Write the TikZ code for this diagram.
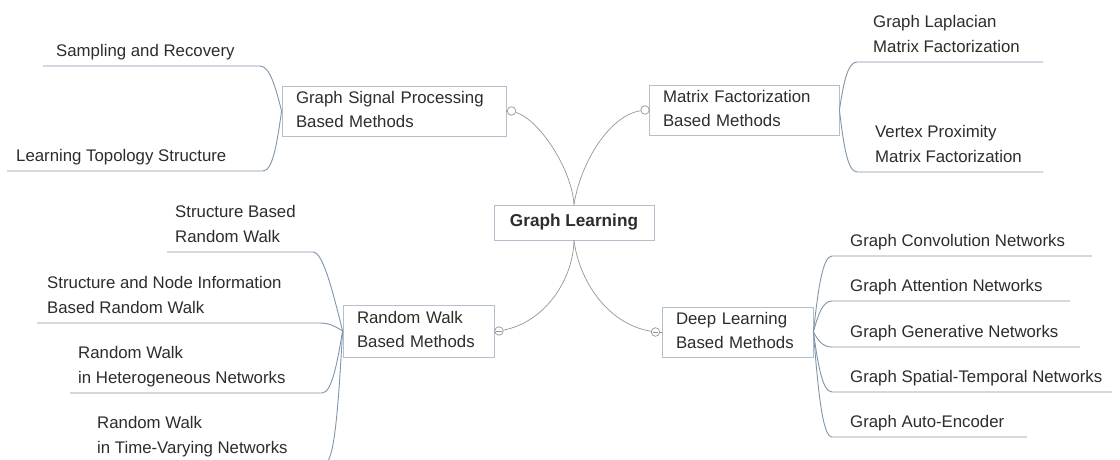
\documentclass[tikz,border=0pt]{standalone}
\usepackage{fontspec}
\setmainfont{Liberation Sans}
\usetikzlibrary{calc}
\definecolor{txt}{RGB}{45,45,45}
\definecolor{boxline}{RGB}{178,192,206}
\definecolor{twigcol}{RGB}{128,150,170}
\definecolor{linkcol}{RGB}{150,150,150}

\begin{document}
\begin{tikzpicture}[x=1pt,y=-1pt,
  every node/.style={text=txt},
  lbl/.style={font=\fontsize{16.8}{25}\selectfont, align=left, inner sep=0pt, anchor=south west},
  topic/.style={draw=boxline, line width=0.8pt, fill=white,
    font=\fontsize{16.8}{24}\selectfont, align=left,
    inner xsep=14pt, inner ysep=0pt, minimum height=50pt},
  root/.style={draw=boxline, line width=0.8pt, fill=white,
    font=\fontsize{17.2}{20}\selectfont\bfseries,
    minimum width=160pt, minimum height=35pt, inner sep=0pt},
  link/.style={draw=linkcol, line width=0.7pt},
  twig/.style={draw=twigcol, line width=0.9pt},
  knob/.style={circle, draw=linkcol, fill=white, minimum size=8.5pt, inner sep=0pt, line width=0.7pt},
  minus/.style={path picture={\draw[linkcol, line width=0.6pt]
      ([xshift=-2.6pt]path picture bounding box.center) --
      ([xshift=2.6pt]path picture bounding box.center);}},
  brL/.style={to path={.. controls ($(\tikztostart)!0.5!(\tikztotarget)+(5,0)$)
      and ($(\tikztotarget)+(10,0)$) .. (\tikztotarget)}},
  brR/.style={to path={.. controls ($(\tikztostart)!0.5!(\tikztotarget)+(-5,0)$)
      and ($(\tikztotarget)+(-10,0)$) .. (\tikztotarget)}},
]
\clip (0,0) rectangle (1120,460);
\fill[white] (0,0) rectangle (1120,460);

% central topic and the four method groups
\node[root] (gl) at (574,222.5) {Graph Learning};
\node[topic, text width=196pt] (gsp) at (394,111) {\strut Graph Signal Processing\\\strut Based Methods};
\node[topic, text width=162pt] (mf) at (744,110) {\strut Matrix Factorization\\\strut Based Methods};
\node[topic, text width=123pt, minimum height=52pt] (rw) at (418.5,331) {\strut Random Walk\\\strut Based Methods};
\node[topic, text width=123pt] (dl) at (737.5,332) {\strut Deep Learning\\\strut Based Methods};

% collapse knobs
\node[knob] (k1) at (511.5,111) {};
\node[knob] (k2) at (645,110) {};
\node[knob, minus] (k3) at (499,331) {};
\node[knob, minus] (k4) at (655.5,332) {};

% links from the central topic
\draw[link] (gl.north) .. controls (572,170) and (540,120) .. (k1);
\draw[link] (gl.north) .. controls (580,165) and (608,116) .. (k2);
\draw[link] (gl.south) .. controls (573,280) and (545,322) .. (k3);
\draw[link] (gl.south) .. controls (579,280) and (607,324) .. (k4);
\draw[link] (k1) -- (gsp.east);
\draw[link] (k2) -- (mf.west);
\draw[link] (k3) -- (rw.east);
\draw[link] (k4) -- (dl.west);

% ---------- graph signal processing ----------
\node[lbl] (sr) at (56,64.5) {\strut Sampling and Recovery};
\coordinate (sr-a) at (43,66);  \coordinate (sr-b) at (260,66);
\node[lbl] (lts) at (16,169.5) {\strut Learning Topology Structure};
\coordinate (lts-a) at (7,171); \coordinate (lts-b) at (263,171);
\draw[twig] (gsp.west) to[brL] (sr-b) -- (sr-a);
\draw[twig] (gsp.west) to[brL] (lts-b) -- (lts-a);

% ---------- matrix factorization ----------
\node[lbl] (glm) at (873,60.5) {\strut Graph Laplacian\\\strut Matrix Factorization};
\coordinate (glm-a) at (857,62);  \coordinate (glm-b) at (1043,62);
\node[lbl] (vpm) at (875,170.5) {\strut Vertex Proximity\\\strut Matrix Factorization};
\coordinate (vpm-a) at (857,172); \coordinate (vpm-b) at (1043,172);
\draw[twig] (mf.east) to[brR] (glm-a) -- (glm-b);
\draw[twig] (mf.east) to[brR] (vpm-a) -- (vpm-b);

% ---------- deep learning ----------
\node[lbl] (gcn) at (850,254.5) {\strut Graph Convolution Networks};
\coordinate (gcn-a) at (832,256); \coordinate (gcn-b) at (1092,256);
\node[lbl] (gan) at (850,299.5) {\strut Graph Attention Networks};
\coordinate (gan-a) at (832,301); \coordinate (gan-b) at (1070,301);
\node[lbl] (ggn) at (850,345.5) {\strut Graph Generative Networks};
\coordinate (ggn-a) at (832,347); \coordinate (ggn-b) at (1080,347);
\node[lbl] (gst) at (850,390.5) {\strut Graph Spatial-Temporal Networks};
\coordinate (gst-a) at (832,392); \coordinate (gst-b) at (1112,392);
\node[lbl] (gae) at (850,435.5) {\strut Graph Auto-Encoder};
\coordinate (gae-a) at (832,437); \coordinate (gae-b) at (1027,437);
\foreach \n in {gcn,gan,ggn,gst,gae}
  \draw[twig] (dl.east) to[brR] (\n-a) -- (\n-b);

% ---------- random walk ----------
\node[lbl] (sbr) at (175,250.5) {\strut Structure Based\\\strut Random Walk};
\coordinate (sbr-a) at (167,252); \coordinate (sbr-b) at (313,252);
\node[lbl] (sni) at (47,321.5) {\strut Structure and Node Information\\\strut Based Random Walk};
\coordinate (sni-a) at (37,323); \coordinate (sni-b) at (320,323);
\node[lbl] (rhn) at (78,391.5) {\strut Random Walk\\\strut in Heterogeneous Networks};
\coordinate (rhn-a) at (70,393); \coordinate (rhn-b) at (322,393);
\node[lbl] (rtv) at (97,461.5) {\strut Random Walk\\\strut in Time-Varying Networks};
\coordinate (rtv-a) at (90,463); \coordinate (rtv-b) at (325,463);
\foreach \n in {sbr,sni,rhn,rtv}
  \draw[twig] (rw.west) to[brL] (\n-b) -- (\n-a);
\end{tikzpicture}
\end{document}
